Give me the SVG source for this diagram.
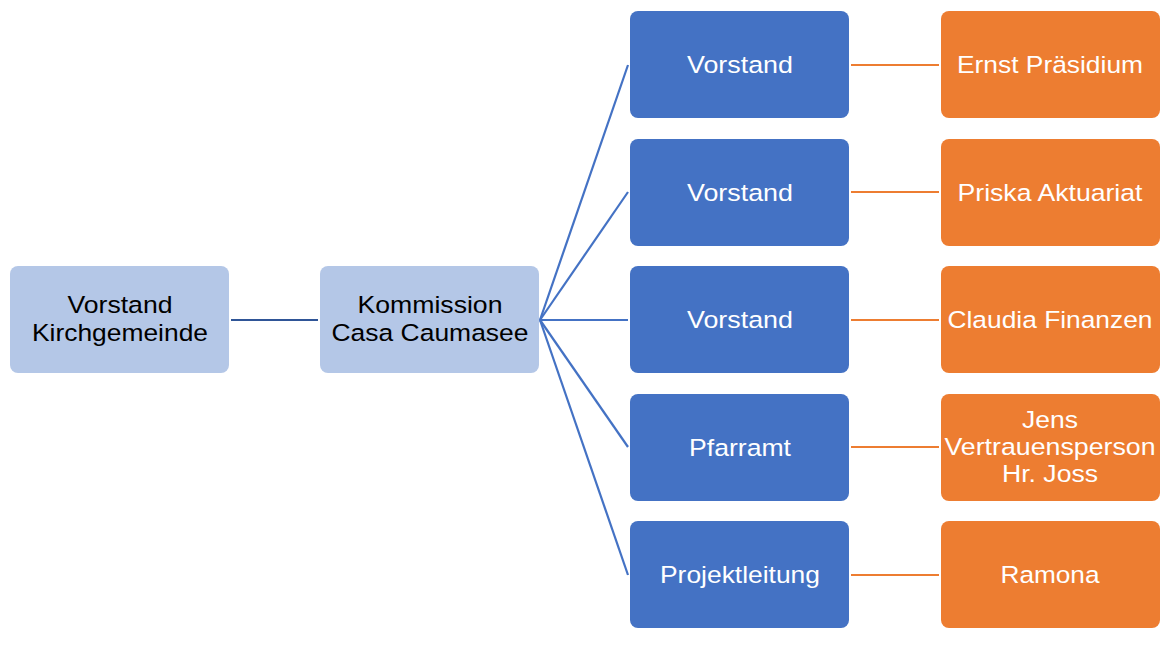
<svg xmlns="http://www.w3.org/2000/svg" width="1162" height="655" viewBox="0 0 1162 655">
<style>
.lb{fill:#B4C7E7}
.bl{fill:#4472C4}
.or{fill:#ED7D31}
text{font-family:"Liberation Sans",Arial,sans-serif;font-size:24.5px;text-anchor:middle}
.dk{fill:#000}
.wt{fill:#fff}
.c1{stroke:#2F5597;stroke-width:2.2;fill:none}
.c2{stroke:#4472C4;stroke-width:2.2;fill:none}
.c3{stroke:#ED7D31;stroke-width:2.2;fill:none}
</style>
<rect width="1162" height="655" fill="#fff"/>
<g id="connectors">
<line class="c1" x1="231" y1="320" x2="318" y2="320"/>
<line class="c2" x1="540" y1="320" x2="628" y2="65"/>
<line class="c2" x1="540" y1="320" x2="628" y2="192"/>
<line class="c2" x1="540" y1="320" x2="628" y2="320"/>
<line class="c2" x1="540" y1="320" x2="628" y2="447"/>
<line class="c2" x1="540" y1="320" x2="628" y2="575"/>
<line class="c3" x1="851" y1="65" x2="939" y2="65"/>
<line class="c3" x1="851" y1="192" x2="939" y2="192"/>
<line class="c3" x1="851" y1="320" x2="939" y2="320"/>
<line class="c3" x1="851" y1="447" x2="939" y2="447"/>
<line class="c3" x1="851" y1="575" x2="939" y2="575"/>
</g>
<g id="n-vorstand-kg">
<rect class="lb" x="10" y="266" width="219" height="107" rx="8"/>
<text class="dk" x="120" y="313" textLength="105" lengthAdjust="spacingAndGlyphs">Vorstand</text>
<text class="dk" x="120" y="341" textLength="176" lengthAdjust="spacingAndGlyphs">Kirchgemeinde</text>
</g>
<g id="n-kommission">
<rect class="lb" x="320" y="266" width="219" height="107" rx="8"/>
<text class="dk" x="430" y="313" textLength="145" lengthAdjust="spacingAndGlyphs">Kommission</text>
<text class="dk" x="430" y="341" textLength="197" lengthAdjust="spacingAndGlyphs">Casa Caumasee</text>
</g>
<g id="n-vorstand1">
<rect class="bl" x="630" y="11" width="219" height="107" rx="8"/>
<text class="wt" x="740" y="73" textLength="106" lengthAdjust="spacingAndGlyphs">Vorstand</text>
</g>
<g id="n-vorstand2">
<rect class="bl" x="630" y="139" width="219" height="107" rx="8"/>
<text class="wt" x="740" y="201" textLength="106" lengthAdjust="spacingAndGlyphs">Vorstand</text>
</g>
<g id="n-vorstand3">
<rect class="bl" x="630" y="266" width="219" height="107" rx="8"/>
<text class="wt" x="740" y="328" textLength="106" lengthAdjust="spacingAndGlyphs">Vorstand</text>
</g>
<g id="n-pfarramt">
<rect class="bl" x="630" y="394" width="219" height="107" rx="8"/>
<text class="wt" x="740" y="456" textLength="102" lengthAdjust="spacingAndGlyphs">Pfarramt</text>
</g>
<g id="n-projektleitung">
<rect class="bl" x="630" y="521" width="219" height="107" rx="8"/>
<text class="wt" x="740" y="583" textLength="160" lengthAdjust="spacingAndGlyphs">Projektleitung</text>
</g>
<g id="n-ernst">
<rect class="or" x="941" y="11" width="219" height="107" rx="8"/>
<text class="wt" x="1050" y="73" textLength="186" lengthAdjust="spacingAndGlyphs">Ernst Präsidium</text>
</g>
<g id="n-priska">
<rect class="or" x="941" y="139" width="219" height="107" rx="8"/>
<text class="wt" x="1050" y="201" textLength="185" lengthAdjust="spacingAndGlyphs">Priska Aktuariat</text>
</g>
<g id="n-claudia">
<rect class="or" x="941" y="266" width="219" height="107" rx="8"/>
<text class="wt" x="1050" y="328" textLength="205" lengthAdjust="spacingAndGlyphs">Claudia Finanzen</text>
</g>
<g id="n-jens">
<rect class="or" x="941" y="394" width="219" height="107" rx="8"/>
<text class="wt" x="1050" y="428" textLength="56" lengthAdjust="spacingAndGlyphs">Jens</text>
<text class="wt" x="1050" y="455" textLength="211" lengthAdjust="spacingAndGlyphs">Vertrauensperson</text>
<text class="wt" x="1050" y="482" textLength="96" lengthAdjust="spacingAndGlyphs">Hr. Joss</text>
</g>
<g id="n-ramona">
<rect class="or" x="941" y="521" width="219" height="107" rx="8"/>
<text class="wt" x="1050" y="583" textLength="99" lengthAdjust="spacingAndGlyphs">Ramona</text>
</g>
</svg>
